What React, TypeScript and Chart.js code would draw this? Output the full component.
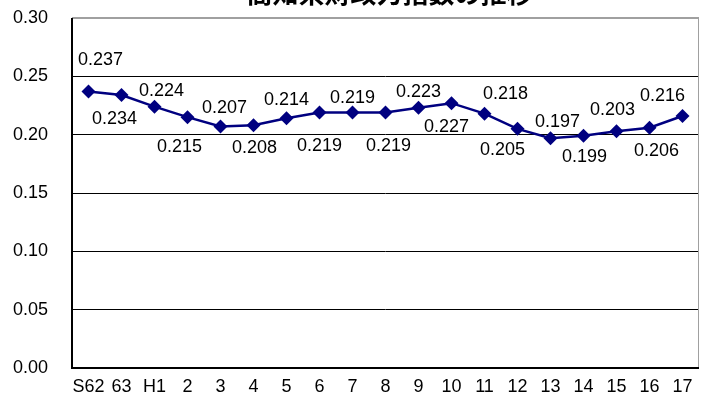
import React, { useEffect, useRef } from "react";
import { Chart, registerables } from "chart.js";

Chart.register(...registerables);

const titleText = "高知県財政力指数の推移";
const categories = ["S62", "63", "H1", "2", "3", "4", "5", "6", "7", "8", "9", "10", "11", "12", "13", "14", "15", "16", "17"];
const indexValues = [0.237, 0.234, 0.224, 0.215, 0.207, 0.208, 0.214, 0.219, 0.219, 0.219, 0.223, 0.227, 0.218, 0.205, 0.197, 0.199, 0.203, 0.206, 0.216];
const yTicks = [0, 0.05, 0.1, 0.15, 0.2, 0.25, 0.3];

// label nudges relative to each point (style only)
const labelNudge: [number, number][] = [
  [12, -31], [-7, 24], [7, -16], [-8, 30], [4, -18], [1, 23], [0, -18], [0, 34], [0, -14], [3, 34],
  [0, -16], [-5, 24], [21, -20], [-15, 21], [7, -16], [1, 21], [-4, -21], [7, 23], [-20, -20],
];

const FONT = "'Liberation Sans', Arial, sans-serif";

const framePlugin = {
  id: "frame",
  afterDatasetsDraw(chart: any) {
    const { ctx, chartArea: a } = chart;
    ctx.save();
    ctx.strokeStyle = "#808080";
    ctx.lineWidth = 1.5;
    ctx.beginPath();
    ctx.moveTo(a.left, a.top);
    ctx.lineTo(a.right, a.top);
    ctx.stroke();
    ctx.strokeStyle = "#a0a0a0";
    ctx.lineWidth = 1;
    ctx.beginPath();
    ctx.moveTo(a.right - 0.5, a.top);
    ctx.lineTo(a.right - 0.5, a.bottom);
    ctx.stroke();
    ctx.strokeStyle = "#000";
    ctx.lineWidth = 2;
    ctx.beginPath();
    ctx.moveTo(a.left, a.top);
    ctx.lineTo(a.left, a.bottom);
    ctx.lineTo(a.right, a.bottom);
    ctx.stroke();
    ctx.restore();
  },
};

const labelsPlugin = {
  id: "valueLabels",
  afterDatasetsDraw(chart: any) {
    const { ctx } = chart;
    const meta = chart.getDatasetMeta(0);
    ctx.save();
    ctx.font = `18px ${FONT}`;
    ctx.fillStyle = "#000";
    ctx.textAlign = "center";
    ctx.textBaseline = "middle";
    meta.data.forEach((pt: any, i: number) => {
      const [dx, dy] = labelNudge[i] || [0, -18];
      ctx.fillText(indexValues[i].toFixed(3), pt.x + dx, pt.y + dy);
    });
    ctx.restore();
  },
};

const titlePlugin = {
  id: "clippedTitle",
  afterDraw(chart: any) {
    const { ctx, chartArea: a } = chart;
    ctx.save();
    ctx.font = `bold 26px 'Noto Sans CJK JP', sans-serif`;
    ctx.fillStyle = "#000";
    ctx.textAlign = "center";
    ctx.textBaseline = "alphabetic";
    ctx.fillText(titleText, (a.left + a.right) / 2 + 4, 3);
    ctx.restore();
  },
};

export default function App() {
  const ref = useRef<HTMLCanvasElement | null>(null);
  useEffect(() => {
    if (!ref.current) return;
    const chart = new Chart(ref.current, {
      type: "line",
      data: {
        labels: categories,
        datasets: [
          {
            data: indexValues,
            borderColor: "#000080",
            backgroundColor: "#000080",
            borderWidth: 2.5,
            pointStyle: "rectRot",
            pointRadius: 7,
            pointBorderWidth: 0,
            pointBackgroundColor: "#000080",
            tension: 0,
            clip: false,
          },
        ],
      },
      options: {
        responsive: false,
        animation: false,
        events: [],
        layout: { autoPadding: false, padding: { top: 18, right: 2, left: 0, bottom: 0 } },
        plugins: { legend: { display: false }, title: { display: false }, tooltip: { enabled: false } },
        scales: {
          x: {
            offset: true,
            grid: { display: true, color: "rgba(0,0,0,0)", drawTicks: true, tickLength: 8, tickColor: "rgba(0,0,0,0)", offset: true },
            border: { display: false },
            ticks: { color: "#000", font: { family: FONT, size: 18 }, padding: 0, maxRotation: 0, autoSkip: false },
            afterFit: (s: any) => {
              s.height = 35;
              s.paddingLeft = 0;
              s.paddingRight = 0;
            },
          },
          y: {
            min: 0,
            max: 0.3,
            afterBuildTicks: (s: any) => { s.ticks = yTicks.map((v) => ({ value: v })); },
            grid: {
              drawTicks: true,
              tickLength: 24,
              tickColor: "rgba(0,0,0,0)",
              color: (c: any) => (c.tick && (c.tick.value === 0 || c.tick.value === 0.3) ? "rgba(0,0,0,0)" : "#000"),
              lineWidth: 1,
            },
            border: { display: false },
            ticks: {
              color: "#000",
              font: { family: FONT, size: 18 },
              padding: 0,
              callback: (v: any) => Number(v).toFixed(2),
            },
            afterFit: (s: any) => {
              s.width = 72;
              s.paddingTop = 0;
              s.paddingBottom = 0;
            },
          },
        },
      },
      plugins: [framePlugin, labelsPlugin, titlePlugin],
    });
    return () => chart.destroy();
  }, []);
  return (
    <div style={{ position: "fixed", left: 0, top: 0, width: 701, height: 403, background: "#fff" }}>
      <canvas ref={ref} width={701} height={403} style={{ width: 701, height: 403, display: "block" }} />
    </div>
  );
}
